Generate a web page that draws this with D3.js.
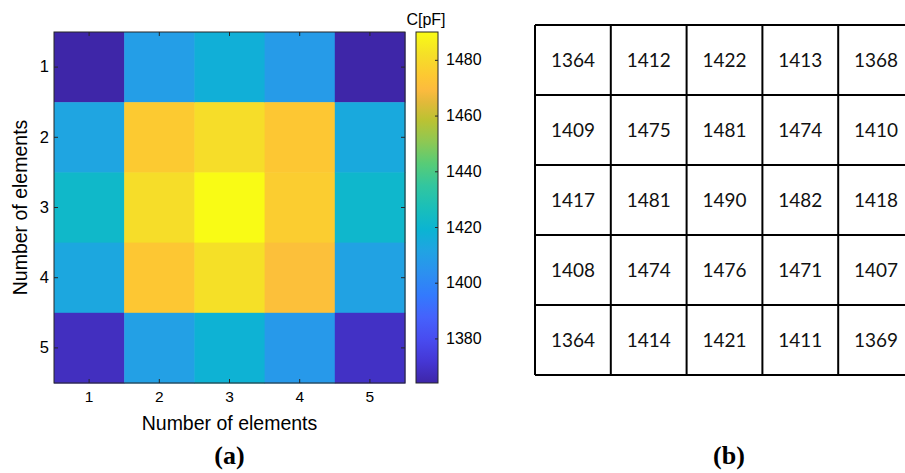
<!DOCTYPE html>
<html><head><meta charset="utf-8">
<script src="https://cdn.jsdelivr.net/npm/d3@7"></script>
<style>body{margin:0;background:#fff} svg{display:block}</style>
</head><body>
<svg id="c" width="905" height="473"></svg>
<script>
// ---- data ----
const rowLabels = ["1","2","3","4","5"];
const colLabels = ["1","2","3","4","5"];
const capRow1 = [1364,1412,1422,1413,1368];
const capRow2 = [1409,1475,1481,1474,1410];
const capRow3 = [1417,1481,1490,1482,1418];
const capRow4 = [1408,1474,1476,1471,1407];
const capRow5 = [1364,1414,1421,1411,1369];
const capValues = [capRow1,capRow2,capRow3,capRow4,capRow5];
const colorbarTicks = [1380,1400,1420,1440,1460,1480];
const colorMin = 1364, colorMax = 1490;
const colorbarTitle = "C[pF]";
const axisTitle = "Number of elements";
const panelLabels = ["(a)","(b)"];

// parula colormap stops (style)
const parulaPos = [0,0.0625,0.125,0.1875,0.25,0.3125,0.375,0.4375,0.5,0.5625,0.625,0.6875,0.75,0.80,0.835,0.875,0.9375,1];
const parulaCol = ["#3e26a8","#4537d5","#484cf0","#4562fc","#337afd","#2c90f0","#21a3e3","#0bb4d2",
  "#1abfb9","#32c69f","#57cc77","#8ec853","#bcc232","#e2b93a","#fcbb3e","#fdc832","#f5e027","#f9fb15"];

const svg = d3.select("#c");
const font = "'Liberation Sans', Arial, Helvetica, sans-serif";
const axisColor = "#262626";

// ---- heatmap (matrix shown transposed, as imagesc draws it) ----
const x = d3.scaleBand().domain(colLabels).range([54,405]);
const y = d3.scaleBand().domain(rowLabels).range([32,383]);
const color = d3.scaleLinear()
  .domain(parulaPos.map(p=> colorMin + p*(colorMax-colorMin)))
  .range(parulaCol).interpolate(d3.interpolateRgb).clamp(true);

const tableCells = [];
capValues.forEach((row,ri)=>row.forEach((v,ci)=>tableCells.push({r:rowLabels[ri],c:colLabels[ci],v})));
const heatCells = tableCells.map(d=>({r:d.c, c:d.r, v:d.v}));

svg.append("g").selectAll("rect").data(heatCells).join("rect")
  .attr("x",d=>x(d.c)).attr("y",d=>y(d.r))
  .attr("width",x.bandwidth()+0.5).attr("height",y.bandwidth()+0.5)
  .attr("fill",d=>color(d.v));

function styleAxis(g, showText, size){
  g.select(".domain").remove();
  g.selectAll(".tick line").attr("stroke",axisColor);
  g.selectAll("text").attr("fill","#000").attr("font-family",font).attr("font-size",size||16);
  if(!showText) g.selectAll("text").remove();
}
svg.append("g").attr("transform","translate(0,383)")
  .call(d3.axisBottom(x).tickSizeInner(-4).tickSizeOuter(0).tickPadding(8))
  .call(g=>styleAxis(g,true,15.5));
svg.append("g").attr("transform","translate(0,32)")
  .call(d3.axisTop(x).tickSizeInner(-4).tickSizeOuter(0))
  .call(g=>styleAxis(g,false));
svg.append("g").attr("transform","translate(54,0)")
  .call(d3.axisLeft(y).tickSizeInner(-4).tickSizeOuter(0).tickPadding(5))
  .call(g=>styleAxis(g,true,16.5));
svg.append("g").attr("transform","translate(405,0)")
  .call(d3.axisRight(y).tickSizeInner(-4).tickSizeOuter(0))
  .call(g=>styleAxis(g,false));
svg.append("rect").attr("x",54).attr("y",32).attr("width",351).attr("height",351)
  .attr("fill","none").attr("stroke",axisColor).attr("stroke-width",1);

svg.append("text").attr("x",229.5).attr("y",430).attr("text-anchor","middle")
  .attr("font-family",font).attr("font-size",19.5).text(axisTitle);
svg.append("text").attr("transform","translate(27,207.5) rotate(-90)").attr("text-anchor","middle")
  .attr("font-family",font).attr("font-size",19.5).text(axisTitle);

// ---- colorbar ----
const cb = d3.scaleLinear().domain([colorMin,colorMax]).range([383,32]);
const grad = svg.append("defs").append("linearGradient").attr("id","cbg")
  .attr("x1",0).attr("y1",1).attr("x2",0).attr("y2",0);
grad.selectAll("stop").data(parulaCol).join("stop")
  .attr("offset",(d,i)=>parulaPos[i]).attr("stop-color",d=>d);
svg.append("rect").attr("x",416).attr("y",cb(colorMax)).attr("width",22)
  .attr("height",cb(colorMin)-cb(colorMax)).attr("fill","url(#cbg)")
  .attr("stroke",axisColor).attr("stroke-width",1);
svg.append("g").attr("transform","translate(438,0)")
  .call(d3.axisRight(cb).tickValues(colorbarTicks).tickFormat(d3.format("d"))
    .tickSizeInner(-3).tickSizeOuter(0).tickPadding(8))
  .call(g=>styleAxis(g,true,16));
svg.append("text").attr("x",426).attr("y",25).attr("text-anchor","middle")
  .attr("font-family",font).attr("font-size",16).text(colorbarTitle);

// ---- table ----
const tx = d3.scaleBand().domain(colLabels).range([535,914]);
const ty = d3.scaleBand().domain(rowLabels).range([25,375]);
const tg = svg.append("g");
tg.selectAll("line.h").data(rowLabels.concat(["end"])).join("line")
  .attr("x1",535).attr("x2",914)
  .attr("y1",(d,i)=> i<rowLabels.length ? ty(d) : 375)
  .attr("y2",(d,i)=> i<rowLabels.length ? ty(d) : 375)
  .attr("stroke","#000").attr("stroke-width",2);
tg.selectAll("line.v").data(colLabels.concat(["end"])).join("line")
  .attr("y1",25).attr("y2",375)
  .attr("x1",(d,i)=> i<colLabels.length ? tx(d) : 914)
  .attr("x2",(d,i)=> i<colLabels.length ? tx(d) : 914)
  .attr("stroke","#000").attr("stroke-width",2);
tg.selectAll("text").data(tableCells).join("text")
  .attr("x",d=>tx(d.c)+tx.bandwidth()/2)
  .attr("y",d=>ty(d.r)+ty.bandwidth()/2+7)
  .attr("text-anchor","middle").attr("font-family","Lato, 'Open Sans', sans-serif")
  .attr("font-size",19.5).attr("fill","#111")
  .attr("textLength",44).attr("lengthAdjust","spacingAndGlyphs").text(d=>d.v);

// ---- panel labels ----
svg.selectAll("text.panel").data(panelLabels).join("text").attr("class","panel")
  .attr("x",(d,i)=> i===0 ? 229.5 : 729).attr("y",464)
  .attr("text-anchor","middle").attr("font-family","'Liberation Serif','Times New Roman',serif")
  .attr("font-weight","bold").attr("font-size",26).text(d=>d);
</script>
</body></html>
